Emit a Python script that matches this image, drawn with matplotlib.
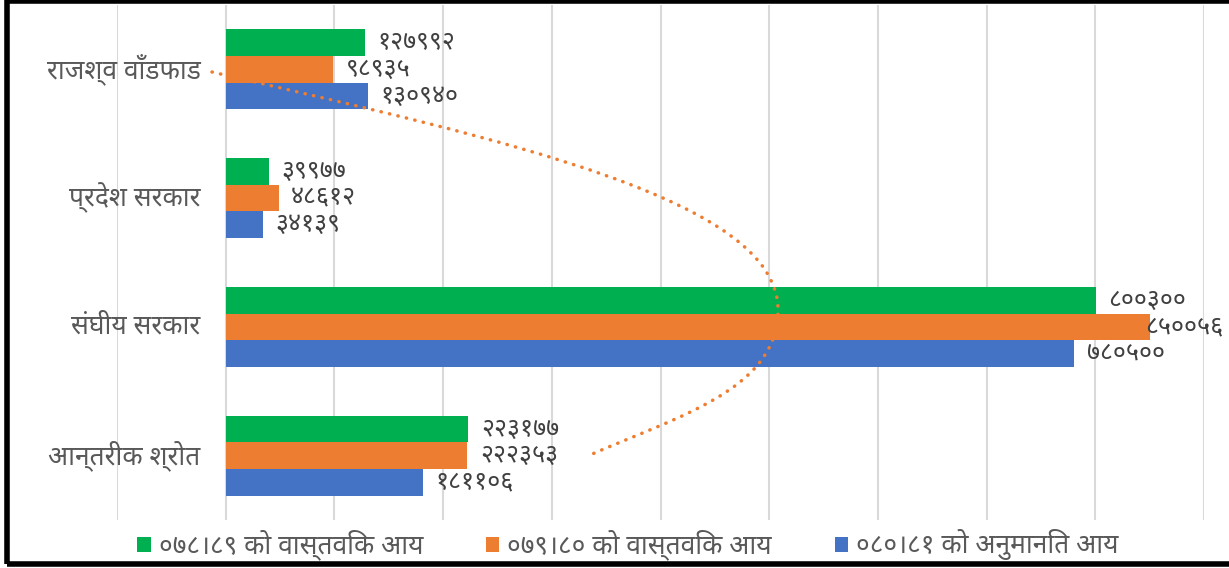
import matplotlib
matplotlib.use('Agg')
import matplotlib.pyplot as plt
from matplotlib.path import Path
from matplotlib.patches import PathPatch, Rectangle
import numpy as np

plt.rcParams['font.family'] = ['Noto Sans', 'DejaVu Sans']

# data (bottom to top, as Excel draws it)
categories = ['आन्तरीक श्रोत', 'संघीय सरकार', 'प्रदेश सरकार', 'राजश्व वाँडफाड']
series_names = ['०७८।८९ को वास्तविक आय', '०७९।८० को वास्तविक आय', '०८०।८१ को अनुमानित आय']
actual_78 = [223177, 800300, 39977, 127992]
actual_79 = [222353, 850056, 48612, 98935]
estimate_80 = [181106, 780500, 34139, 130940]
labels_78 = ['२२३१७७', '८००३००', '३९९७७', '१२७९९२']
labels_79 = ['२२२३५३', '८५००५६', '४८६१२', '९८९३५']
labels_80 = ['१८११०६', '७८०५००', '३४१३९', '१३०९४०']
colors = ['#00b050', '#ed7d31', '#4472c4']

W, H = 1229, 568
fig = plt.figure(figsize=(W / 100, H / 100), dpi=100)
ax = fig.add_axes([117 / W, 1 - 520 / H, (1204 - 117) / W, (520 - 5) / H])

y = np.arange(len(categories))
h = 0.207
all_vals = [actual_78, actual_79, estimate_80]
all_labels = [labels_78, labels_79, labels_80]
offsets = [h, 0, -h]
value_texts = []
for vals, labs, off, c, name in zip(all_vals, all_labels, offsets, colors, series_names):
    bars = ax.barh(y + off, vals, height=h, color=c, label=name, zorder=2)
    value_texts += ax.bar_label(bars, labels=labs, padding=9, fontsize=18, color='#404040')

ax.set_xlim(-100000, 900000)
ax.set_ylim(-0.5, len(categories) - 0.5)
ax.set_xticks(np.arange(-100000, 900001, 100000))
ax.xaxis.grid(True, color='#d9d9d9', linewidth=1.5, zorder=0)
ax.tick_params(axis='x', length=0, labelbottom=False)
ax.tick_params(axis='y', length=0)
for s in ax.spines.values():
    s.set_visible(False)
ax.set_yticks([])
# category labels sit next to the zero line, like Excel
for yi, cat in zip(y, categories):
    ax.annotate(cat, (0, yi), xytext=(-18, 0), textcoords='offset points',
                ha='right', va='center', fontsize=19, color='#595959')

fig.legend(loc='center', bbox_to_anchor=(0.511, 1 - 545 / H), ncol=3, frameon=False,
           fontsize=19, handlelength=0.5, handleheight=0.5, handletextpad=0.3,
           columnspacing=2.4, labelcolor='#595959')

# pull labels back inside the figure if they run off the right edge (Excel does this too)
fig.canvas.draw()
r = fig.canvas.get_renderer()
for t in value_texts:
    bb = t.get_window_extent(r)
    if bb.x1 > W - 6:
        dx = (bb.x1 - (W - 6)) * 72 / fig.dpi
        ox, oy = t.xyann
        t.xyann = (ox - dx, oy)

# dotted decorative curve
px = lambda x, yy: (x / W, 1 - yy / H)
verts = [px(212, 72), px(509, 141), px(778, 200), px(778, 310),
         px(778, 390), px(676, 417), px(590, 455)]
codes = [Path.MOVETO, Path.CURVE4, Path.CURVE4, Path.CURVE4,
         Path.CURVE4, Path.CURVE4, Path.CURVE4]
curve = PathPatch(Path(verts, codes), transform=fig.transFigure, fill=False,
                  edgecolor='#ed7d31', linewidth=2.5, linestyle=(0, (0.1, 2.4)),
                  capstyle='round', zorder=5)
fig.patches.append(curve)

# outer frame
fig.patches.append(Rectangle(px(7, 564), 1.1, 563 / H, transform=fig.transFigure,
                             fill=False, edgecolor='black', linewidth=4))

fig.savefig('out.png', dpi=100)
